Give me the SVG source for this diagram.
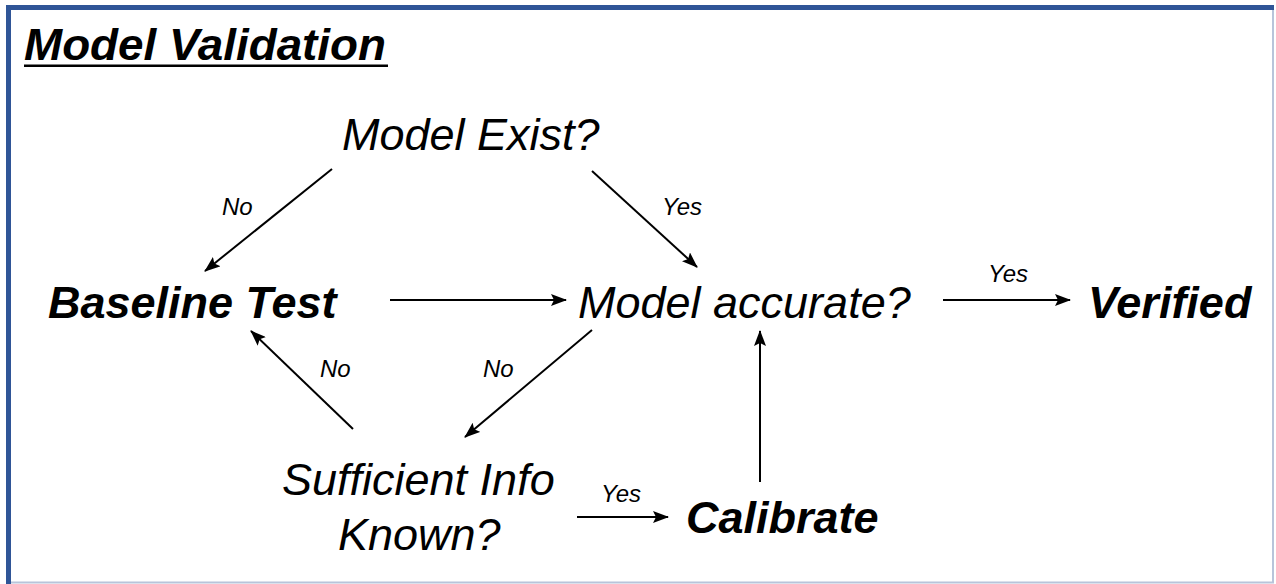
<svg xmlns="http://www.w3.org/2000/svg" width="1276" height="584" viewBox="0 0 1276 584">
  <style>
    .node { font-family: "Liberation Sans", Arial, sans-serif; font-style: italic; fill: #000; }
    .q { font-size: 45px; font-weight: normal; }
    .b { font-size: 45px; font-weight: bold; }
    .lbl { font-family: "Liberation Sans", Arial, sans-serif; font-style: italic; font-size: 24px; fill: #000; }
    .edge { stroke: #000; stroke-width: 2; fill: none; marker-end: url(#arrow); }
  </style>
  <defs>
    <marker id="arrow" markerUnits="userSpaceOnUse" markerWidth="16" markerHeight="12" refX="15" refY="6" orient="auto">
      <path d="M0,0 L16,6 L0,12 L3,6 Z" fill="#000"/>
    </marker>
  </defs>

  <rect x="0" y="0" width="1276" height="584" fill="#fff"/>

  <!-- frame -->
  <g id="frame">
    <path d="M1273,7.5 V582.5 H8.5" fill="none" stroke="#b8c4da" stroke-width="2"/>
    <path d="M8.5,584 V7.5 H1274" fill="none" stroke="#2f5597" stroke-width="5"/>
  </g>

  <!-- title -->
  <g id="title">
    <text x="24" y="60" class="node b" font-size="47" textLength="362" lengthAdjust="spacingAndGlyphs">Model Validation</text>
    <rect x="24" y="64.5" width="364" height="2.5" fill="#000"/>
  </g>

  <g id="model-exist"><text x="342" y="150" class="node q">Model Exist?</text></g>
  <g id="baseline-test"><text x="48" y="318" class="node b" font-size="46">Baseline Test</text></g>
  <g id="model-accurate"><text x="578" y="318" class="node q" font-size="46.8">Model accurate?</text></g>
  <g id="verified"><text x="1088" y="318" class="node b">Verified</text></g>
  <g id="sufficient-info">
    <text x="282" y="495" class="node q" font-size="46">Sufficient Info</text>
    <text x="338" y="550" class="node q">Known?</text>
  </g>
  <g id="calibrate"><text x="686" y="533" class="node b">Calibrate</text></g>

  <!-- connectors -->
  <g id="connectors">
    <line class="edge" x1="332" y1="169" x2="205" y2="271"/>
    <line class="edge" x1="592" y1="171" x2="697" y2="267"/>
    <line class="edge" x1="390" y1="300" x2="566" y2="300"/>
    <line class="edge" x1="943" y1="300" x2="1070" y2="300"/>
    <line class="edge" x1="353" y1="429" x2="251" y2="331"/>
    <line class="edge" x1="592" y1="330" x2="465" y2="437"/>
    <line class="edge" x1="577" y1="517" x2="668" y2="517"/>
    <line class="edge" x1="760" y1="482" x2="760" y2="331"/>

    <text x="222" y="215" class="lbl">No</text>
    <text x="662" y="215" class="lbl">Yes</text>
    <text x="988" y="282" class="lbl">Yes</text>
    <text x="320" y="377" class="lbl">No</text>
    <text x="483" y="377" class="lbl">No</text>
    <text x="601" y="502" class="lbl">Yes</text>
  </g>
</svg>
